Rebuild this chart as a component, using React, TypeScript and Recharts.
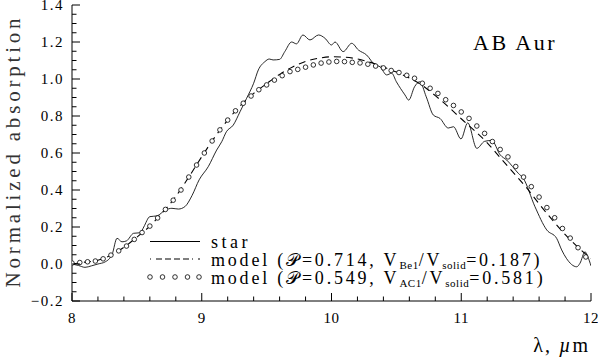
import React from 'react';
import { LineChart, Line, XAxis, YAxis, Legend, Customized } from 'recharts';

const xTicks = [8, 8.2, 8.4, 8.6, 8.8, 9, 9.2, 9.4, 9.6, 9.8, 10, 10.2, 10.4, 10.6, 10.8, 11, 11.2, 11.4, 11.6, 11.8, 12];
const xLabels = [8, 9, 10, 11, 12];
const yTicks = [-0.2, -0.15, -0.1, -0.05, 0, 0.05, 0.1, 0.15, 0.2, 0.25, 0.3, 0.35, 0.4, 0.45, 0.5, 0.55, 0.6, 0.65, 0.7, 0.75, 0.8, 0.85, 0.9, 0.95, 1, 1.05, 1.1, 1.15, 1.2, 1.25, 1.3, 1.35, 1.4];
const yLabels = [-0.2, 0, 0.2, 0.4, 0.6, 0.8, 1, 1.2, 1.4];

const starX = [8.0, 8.05, 8.1, 8.15, 8.2, 8.257, 8.31, 8.347, 8.385, 8.42, 8.475, 8.527, 8.553, 8.6, 8.655, 8.72, 8.77, 8.82, 8.87, 8.925, 8.98, 9.05, 9.115, 9.154, 9.19, 9.243, 9.295, 9.346, 9.4, 9.436, 9.487, 9.52, 9.55, 9.6, 9.64, 9.693, 9.73, 9.78, 9.834, 9.9, 9.95, 10.0, 10.027, 10.09, 10.156, 10.207, 10.27, 10.335, 10.374, 10.425, 10.464, 10.5, 10.566, 10.595, 10.64, 10.68, 10.73, 10.785, 10.836, 10.9, 10.94, 10.998, 11.05, 11.12, 11.18, 11.235, 11.3, 11.35, 11.44, 11.478, 11.568, 11.659, 11.735, 11.774, 11.81, 11.89, 11.915, 11.954, 11.975, 12.0];
const starY = [0.0, -0.008, -0.018, -0.01, 0.0, 0.012, 0.054, 0.139, 0.12, 0.125, 0.166, 0.169, 0.2, 0.256, 0.26, 0.292, 0.301, 0.297, 0.31, 0.37, 0.455, 0.526, 0.616, 0.661, 0.715, 0.751, 0.823, 0.896, 0.977, 1.049, 1.094, 1.108, 1.103, 1.106, 1.148, 1.2, 1.19, 1.238, 1.211, 1.238, 1.22, 1.184, 1.2, 1.148, 1.193, 1.157, 1.13, 1.076, 1.066, 1.022, 1.031, 0.985, 0.914, 0.886, 0.958, 0.985, 0.904, 0.805, 0.787, 0.735, 0.742, 0.676, 0.763, 0.625, 0.663, 0.668, 0.59, 0.562, 0.49, 0.463, 0.31, 0.184, 0.139, 0.076, 0.031, -0.015, 0.004, 0.066, 0.04, -0.01];

const model1X = [8.0, 8.1, 8.2, 8.3, 8.4, 8.5, 8.6, 8.7, 8.8, 8.9, 9.0, 9.1, 9.2, 9.3, 9.4, 9.5, 9.6, 9.7, 9.8, 9.9, 10.0, 10.1, 10.2, 10.3, 10.4, 10.5, 10.6, 10.7, 10.8, 10.9, 11.0, 11.1, 11.2, 11.3, 11.4, 11.5, 11.6, 11.7, 11.8, 11.9, 12.0];
const model1Y = [0.0, 0.01, 0.02, 0.048, 0.09, 0.145, 0.205, 0.28, 0.365, 0.47, 0.58, 0.685, 0.778, 0.858, 0.922, 0.975, 1.025, 1.065, 1.095, 1.112, 1.12, 1.118, 1.108, 1.09, 1.065, 1.038, 1.005, 0.965, 0.91, 0.85, 0.785, 0.722, 0.655, 0.575, 0.495, 0.415, 0.325, 0.24, 0.16, 0.09, 0.03];

const model2X = [8.0, 8.06, 8.12, 8.18, 8.24, 8.3, 8.36, 8.42, 8.48, 8.54, 8.6, 8.66, 8.72, 8.78, 8.84, 8.9, 8.96, 9.02, 9.08, 9.14, 9.2, 9.26, 9.32, 9.38, 9.44, 9.5, 9.56, 9.62, 9.68, 9.74, 9.8, 9.86, 9.92, 9.98, 10.04, 10.1, 10.16, 10.22, 10.28, 10.34, 10.4, 10.46, 10.52, 10.58, 10.64, 10.7, 10.76, 10.82, 10.88, 10.94, 11.0, 11.06, 11.12, 11.18, 11.24, 11.3, 11.36, 11.42, 11.48, 11.54, 11.6, 11.66, 11.72, 11.78, 11.84, 11.9, 11.96];
const model2Y = [0.005, 0.008, 0.012, 0.016, 0.028, 0.048, 0.071, 0.097, 0.133, 0.17, 0.205, 0.249, 0.295, 0.345, 0.4, 0.47, 0.535, 0.6, 0.665, 0.725, 0.778, 0.828, 0.869, 0.908, 0.942, 0.968, 0.994, 1.018, 1.04, 1.052, 1.064, 1.076, 1.086, 1.092, 1.095, 1.094, 1.09, 1.087, 1.08, 1.07, 1.06, 1.046, 1.035, 1.02, 1.004, 0.977, 0.95, 0.922, 0.888, 0.857, 0.822, 0.787, 0.746, 0.706, 0.662, 0.619, 0.579, 0.527, 0.47, 0.418, 0.362, 0.305, 0.25, 0.192, 0.14, 0.088, 0.038];

const starData = starX.map((x, i) => ({ x, y: starY[i] }));
const model1Data = model1X.map((x, i) => ({ x, y: model1Y[i] }));
const model2Data = model2X.map((x, i) => ({ x, y: model2Y[i] }));

const FONT = 'Liberation Serif, serif';
const MAJOR = 8;
const MINOR = 4.5;

const fmtY = (v: number) => (v < 0 ? '\u2212' : '') + Math.abs(v).toFixed(1);

const txt = (size: number, ls: number, fill = '#000'): React.CSSProperties => ({
  fontFamily: FONT,
  fontSize: size,
  letterSpacing: ls,
  fill,
});

const BottomTick = (props: any) => {
  const { x, y, payload } = props;
  const v = payload.value;
  const major = xLabels.includes(v);
  return (
    <g>
      <line x1={x} x2={x} y1={y} y2={y - (major ? MAJOR : MINOR)} stroke="#000" strokeWidth={1} />
      {major && (
        <text x={x} y={y + 22} textAnchor="middle" style={txt(15, 0.5)}>
          {v}
        </text>
      )}
    </g>
  );
};

const TopTick = (props: any) => {
  const { x, y, payload } = props;
  const major = xLabels.includes(payload.value);
  return <line x1={x} x2={x} y1={y} y2={y + (major ? MAJOR : MINOR)} stroke="#000" strokeWidth={1} />;
};

const LeftTick = (props: any) => {
  const { x, y, payload } = props;
  const v = payload.value;
  const major = yLabels.includes(v);
  return (
    <g>
      <line x1={x} x2={x + (major ? MAJOR : MINOR)} y1={y} y2={y} stroke="#000" strokeWidth={1} />
      {major && (
        <text x={x - 8} y={y + 5} textAnchor="end" style={txt(15, 1.5)}>
          {fmtY(v)}
        </text>
      )}
    </g>
  );
};

const RightTick = (props: any) => {
  const { x, y, payload } = props;
  const major = yLabels.includes(payload.value);
  return <line x1={x} x2={x - (major ? MAJOR : MINOR)} y1={y} y2={y} stroke="#000" strokeWidth={1} />;
};

const subStyle: React.CSSProperties = { fontSize: 11, letterSpacing: 0.5 };

const LegendBox = () => (
  <svg width={440} height={62} style={{ overflow: 'visible' }}>
    <line x1={5} x2={55} y1={11.5} y2={11.5} stroke="#000" strokeWidth={1} />
    <text x={66} y={17.5} style={txt(18, 3.5)}>star</text>
    <line x1={5} x2={55} y1={29} y2={29} stroke="#000" strokeWidth={1.2} strokeDasharray="1 5 6 3 6 3 6 3 6 3" />
    <text x={66} y={36} style={txt(18, 2.8)}>
      model (𝒫=0.714, V<tspan dy={3} style={subStyle}>Be1</tspan>
      <tspan dy={-3}>/V</tspan>
      <tspan dy={3} style={subStyle}>solid</tspan>
      <tspan dy={-3}>=0.187)</tspan>
    </text>
    {[5, 17.5, 30, 42.5, 54].map((cx) => (
      <circle key={cx} cx={cx} cy={47} r={2.3} fill="#fff" stroke="#000" strokeWidth={0.8} />
    ))}
    <text x={66} y={54} style={txt(18, 2.8)}>
      model (𝒫=0.549, V<tspan dy={3} style={subStyle}>AC1</tspan>
      <tspan dy={-3}>/V</tspan>
      <tspan dy={3} style={subStyle}>solid</tspan>
      <tspan dy={-3}>=0.581)</tspan>
    </text>
  </svg>
);

const Annotations = () => (
  <g>
    <text transform="translate(20,151) rotate(-90)" textAnchor="middle" style={txt(21, 3.8, '#333')}>
      Normalized  absorption
    </text>
    <text x={473} y={50} style={txt(22, 2.5)}>
      AB  Aur
    </text>
    <text x={590} y={352} textAnchor="end" style={txt(20, 2)}>
      λ,  <tspan fontStyle="italic">µ</tspan>m
    </text>
  </g>
);

export default function App() {
  return (
    <div style={{ position: 'absolute', left: 0, top: 0, width: 598, height: 358, background: '#fff', fontFamily: FONT }}>
      <LineChart width={598} height={358} margin={{ top: 5, right: 7, bottom: 0, left: 0 }}>
        <XAxis
          dataKey="x"
          type="number"
          domain={[8, 12]}
          ticks={xTicks}
          height={57}
          tickSize={0}
          tickMargin={0}
          tick={<BottomTick />}
          axisLine={{ stroke: '#000', strokeWidth: 1 }}
          allowDataOverflow
          interval={0}
        />
        <XAxis
          xAxisId="top"
          orientation="top"
          dataKey="x"
          type="number"
          domain={[8, 12]}
          ticks={xTicks}
          height={0}
          tickSize={0}
          tickMargin={0}
          tick={<TopTick />}
          axisLine={{ stroke: '#000', strokeWidth: 1 }}
          allowDataOverflow
          interval={0}
        />
        <YAxis
          type="number"
          domain={[-0.2, 1.4]}
          ticks={yTicks}
          width={72}
          tickSize={0}
          tickMargin={0}
          tick={<LeftTick />}
          axisLine={{ stroke: '#000', strokeWidth: 1 }}
          allowDataOverflow
          interval={0}
        />
        <YAxis
          yAxisId="right"
          orientation="right"
          type="number"
          domain={[-0.2, 1.4]}
          ticks={yTicks}
          width={0}
          tickSize={0}
          tickMargin={0}
          tick={<RightTick />}
          axisLine={{ stroke: '#000', strokeWidth: 1 }}
          allowDataOverflow
          interval={0}
        />
        <Line
          data={starData}
          dataKey="y"
          type="monotone"
          stroke="#111"
          strokeWidth={0.9}
          dot={false}
          isAnimationActive={false}
        />
        <Line
          data={model1Data}
          dataKey="y"
          type="monotone"
          stroke="#000"
          strokeWidth={1.1}
          strokeDasharray="7 5"
          dot={false}
          isAnimationActive={false}
        />
        <Line
          data={model2Data}
          dataKey="y"
          type="monotone"
          stroke="none"
          dot={{ r: 2.3, fill: '#fff', stroke: '#000', strokeWidth: 0.8 }}
          isAnimationActive={false}
        />
        <Legend
          layout="horizontal"
          verticalAlign="middle"
          align="center"
          content={() => <LegendBox />}
          wrapperStyle={{ left: 145, top: 230, width: 440, height: 62 }}
        />
        <Customized component={Annotations} />
      </LineChart>
    </div>
  );
}
